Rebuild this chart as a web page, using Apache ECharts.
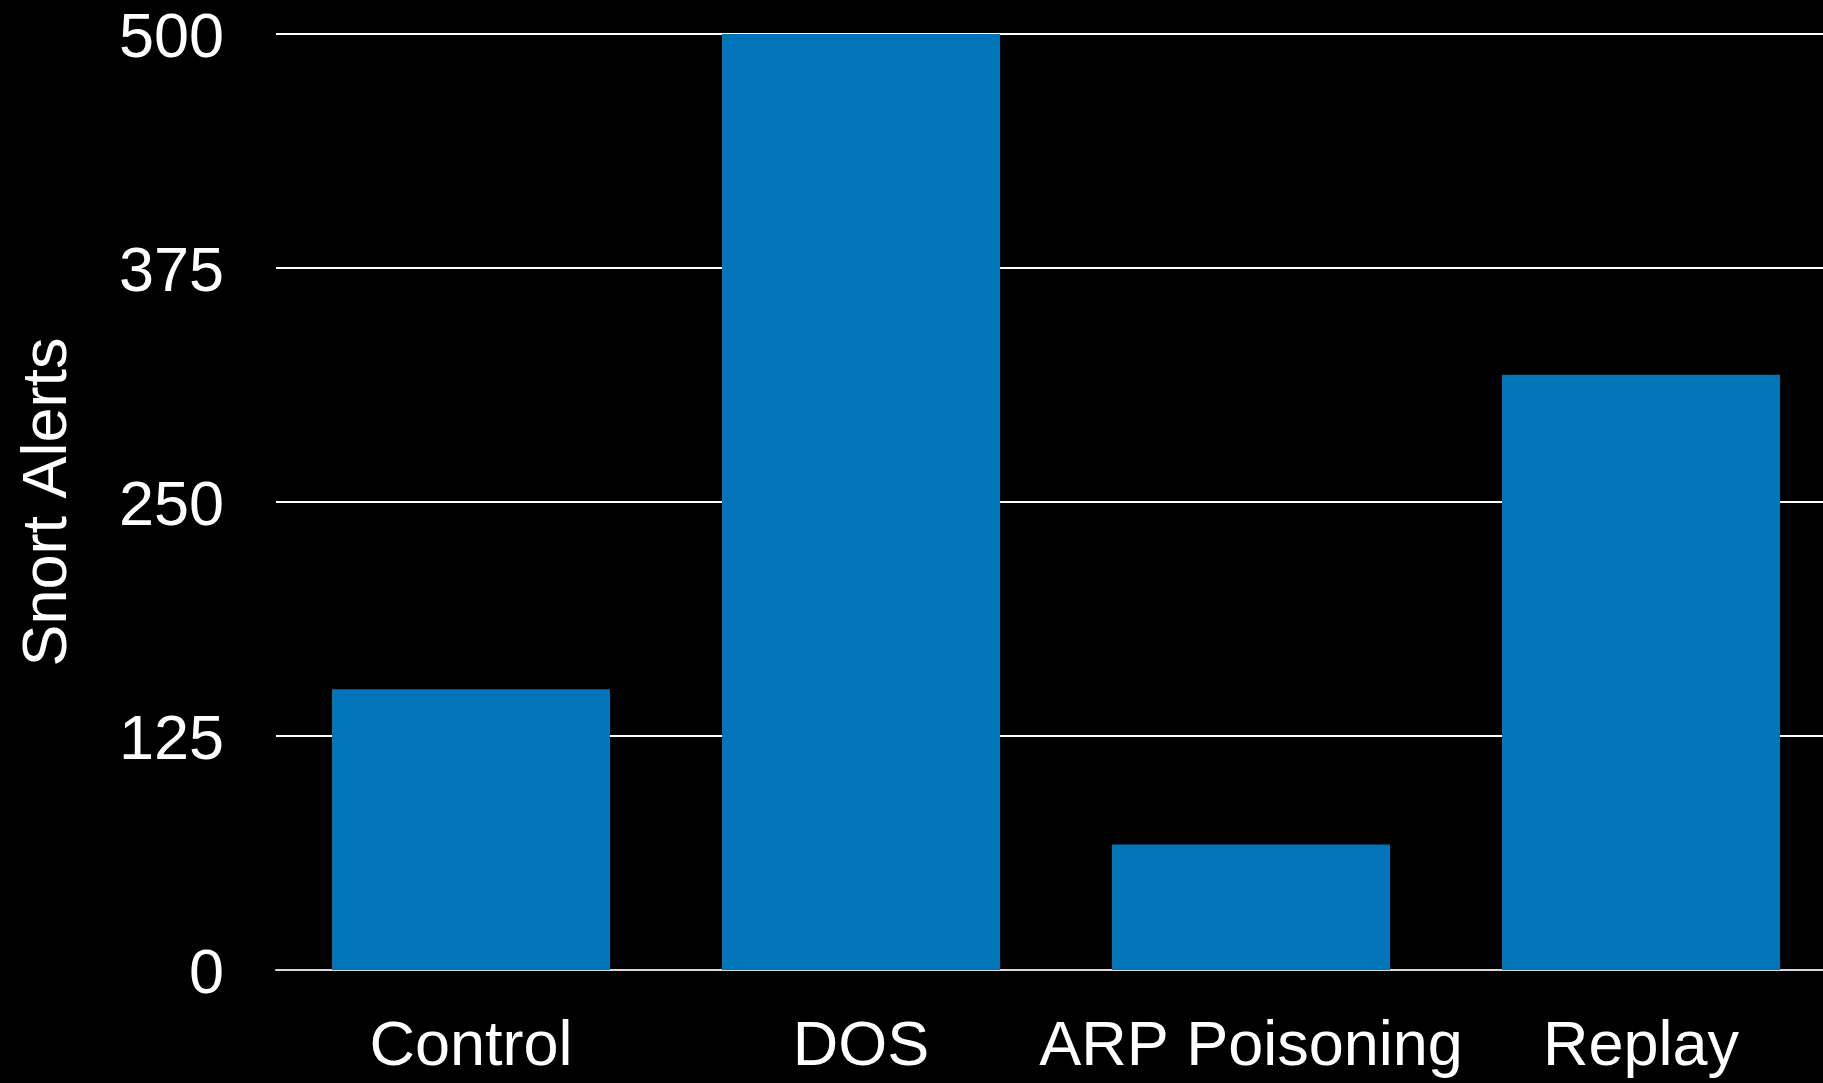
<!DOCTYPE html>
<html>
<head>
<meta charset="utf-8">
<title>Snort Alerts</title>
<script src="https://cdn.jsdelivr.net/npm/echarts@6/dist/echarts.min.js"></script>
<style>
  html, body { margin: 0; padding: 0; background: #000; overflow: hidden; }
  /* the plot runs a little past the right edge of the window */
  #chart { width: 1836px; height: 1083px; }
</style>
</head>
<body>
<div id="chart"></div>
<script>
// Alerts raised per scenario
const categories = ['Control', 'DOS', 'ARP Poisoning', 'Replay'];
const alertCounts = [150, 500, 67, 318];
const yTicks = [0, 125, 250, 375, 500];

const FONT = "'Liberation Sans', Arial, Helvetica, sans-serif";
const chart = echarts.init(document.getElementById('chart'), null, { renderer: 'canvas' });

chart.setOption({
  backgroundColor: '#000000',
  animation: false,
  grid: { left: 276, top: 34, right: 0, bottom: 113, containLabel: false },
  xAxis: {
    type: 'category',
    data: categories,
    axisTick: { show: false },
    axisLine: { show: true, lineStyle: { color: '#d8d8d8', width: 2 } },
    axisLabel: { color: '#ffffff', fontSize: 63, fontFamily: FONT, margin: 46, interval: 0 },
    splitLine: { show: false }
  },
  yAxis: {
    type: 'value',
    min: yTicks[0],
    max: yTicks[yTicks.length - 1],
    interval: yTicks[1] - yTicks[0],
    name: 'Snort Alerts',
    nameLocation: 'middle',
    nameRotate: 90,
    nameGap: 196,
    nameTextStyle: { color: '#ffffff', fontSize: 63, fontFamily: FONT },
    axisLine: { show: false },
    axisTick: { show: false },
    axisLabel: { color: '#ffffff', fontSize: 63, fontFamily: FONT, margin: 52, verticalAlign: 'top', lineHeight: 12 },
    splitLine: { show: true, lineStyle: { color: '#ffffff', width: 2 } }
  },
  series: [{
    type: 'bar',
    data: alertCounts,
    barWidth: 278,
    itemStyle: { color: '#0075b8' },
    z: 3
  }]
});
</script>
</body>
</html>
